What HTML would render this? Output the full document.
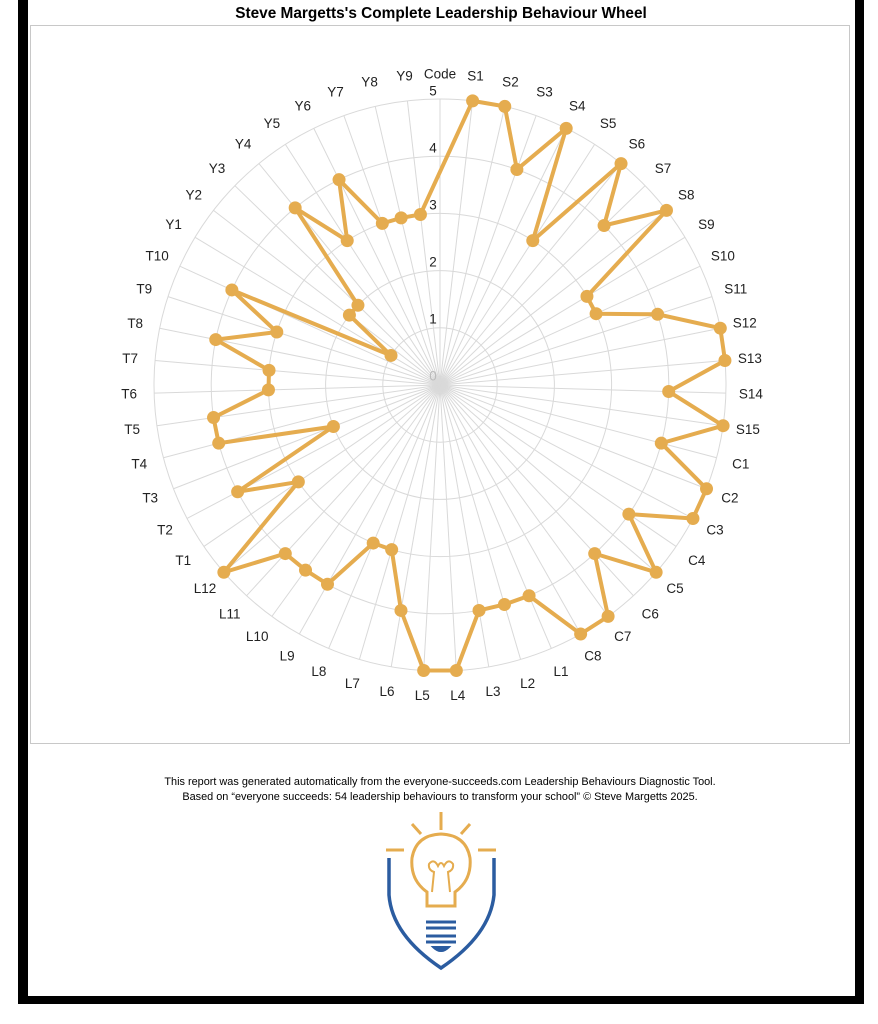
<!DOCTYPE html>
<html><head><meta charset="utf-8"><style>
html,body{margin:0;padding:0;background:#fff;}
body{width:878px;height:1024px;position:relative;overflow:hidden;font-family:"Liberation Sans",sans-serif;}
.bar{position:absolute;background:#000;}
.title{position:absolute;top:5px;left:0;width:882px;text-align:center;font-weight:bold;font-size:15.4px;color:#000;}
.foot{position:absolute;top:775px;left:0;width:880px;text-align:center;font-size:10.9px;line-height:15px;color:#000;}
svg{position:absolute;left:0;top:0;}
</style></head><body>
<div class="bar" style="left:18px;top:0;width:10px;height:1004px"></div>
<div class="bar" style="left:855px;top:0;width:9px;height:1004px"></div>
<div class="bar" style="left:18px;top:996px;width:846px;height:8px"></div>
<div class="title">Steve Margetts's Complete Leadership Behaviour Wheel</div>
<svg width="878" height="1024" id="s">
<rect x="30.5" y="25.5" width="819" height="718" fill="none" stroke="#c8c8c8" stroke-width="1"/>
<g id="grid"></g>
<g id="ser"></g>
<g font-family="Liberation Sans, sans-serif" font-size="13.5" fill="#222" text-anchor="middle" dominant-baseline="central" id="lab">
<text transform="rotate(0 440 385) translate(440 74) rotate(0)">Code</text>
<text transform="rotate(6.545 440 385) translate(440 74) rotate(-6.545)">S1</text>
<text transform="rotate(13.09 440 385) translate(440 74) rotate(-13.09)">S2</text>
<text transform="rotate(19.636 440 385) translate(440 74) rotate(-19.636)">S3</text>
<text transform="rotate(26.18 440 385) translate(440 74) rotate(-26.18)">S4</text>
<text transform="rotate(32.727 440 385) translate(440 74) rotate(-32.727)">S5</text>
<text transform="rotate(39.27 440 385) translate(440 74) rotate(-39.27)">S6</text>
<text transform="rotate(45.818 440 385) translate(440 74) rotate(-45.818)">S7</text>
<text transform="rotate(52.36 440 385) translate(440 74) rotate(-52.36)">S8</text>
<text transform="rotate(58.909 440 385) translate(440 74) rotate(-58.909)">S9</text>
<text transform="rotate(65.45 440 385) translate(440 74) rotate(-65.45)">S10</text>
<text transform="rotate(72 440 385) translate(440 74) rotate(-72)">S11</text>
<text transform="rotate(78.545 440 385) translate(440 74) rotate(-78.545)">S12</text>
<text transform="rotate(85.09 440 385) translate(440 74) rotate(-85.09)">S13</text>
<text transform="rotate(91.636 440 385) translate(440 74) rotate(-91.636)">S14</text>
<text transform="rotate(98.18 440 385) translate(440 74) rotate(-98.18)">S15</text>
<text transform="rotate(104.727 440 385) translate(440 74) rotate(-104.727)">C1</text>
<text transform="rotate(111.27 440 385) translate(440 74) rotate(-111.27)">C2</text>
<text transform="rotate(117.818 440 385) translate(440 74) rotate(-117.818)">C3</text>
<text transform="rotate(124.36 440 385) translate(440 74) rotate(-124.36)">C4</text>
<text transform="rotate(130.909 440 385) translate(440 74) rotate(-130.909)">C5</text>
<text transform="rotate(137.45 440 385) translate(440 74) rotate(-137.45)">C6</text>
<text transform="rotate(144 440 385) translate(440 74) rotate(-144)">C7</text>
<text transform="rotate(150.545 440 385) translate(440 74) rotate(-150.545)">C8</text>
<text transform="rotate(157.09 440 385) translate(440 74) rotate(-157.09)">L1</text>
<text transform="rotate(163.636 440 385) translate(440 74) rotate(-163.636)">L2</text>
<text transform="rotate(170.18 440 385) translate(440 74) rotate(-170.18)">L3</text>
<text transform="rotate(176.727 440 385) translate(440 74) rotate(-176.727)">L4</text>
<text transform="rotate(183.27 440 385) translate(440 74) rotate(-183.27)">L5</text>
<text transform="rotate(189.818 440 385) translate(440 74) rotate(-189.818)">L6</text>
<text transform="rotate(196.36 440 385) translate(440 74) rotate(-196.36)">L7</text>
<text transform="rotate(202.909 440 385) translate(440 74) rotate(-202.909)">L8</text>
<text transform="rotate(209.45 440 385) translate(440 74) rotate(-209.45)">L9</text>
<text transform="rotate(216 440 385) translate(440 74) rotate(-216)">L10</text>
<text transform="rotate(222.545 440 385) translate(440 74) rotate(-222.545)">L11</text>
<text transform="rotate(229.09 440 385) translate(440 74) rotate(-229.09)">L12</text>
<text transform="rotate(235.636 440 385) translate(440 74) rotate(-235.636)">T1</text>
<text transform="rotate(242.18 440 385) translate(440 74) rotate(-242.18)">T2</text>
<text transform="rotate(248.727 440 385) translate(440 74) rotate(-248.727)">T3</text>
<text transform="rotate(255.27 440 385) translate(440 74) rotate(-255.27)">T4</text>
<text transform="rotate(261.818 440 385) translate(440 74) rotate(-261.818)">T5</text>
<text transform="rotate(268.36 440 385) translate(440 74) rotate(-268.36)">T6</text>
<text transform="rotate(274.909 440 385) translate(440 74) rotate(-274.909)">T7</text>
<text transform="rotate(281.45 440 385) translate(440 74) rotate(-281.45)">T8</text>
<text transform="rotate(288 440 385) translate(440 74) rotate(-288)">T9</text>
<text transform="rotate(294.545 440 385) translate(440 74) rotate(-294.545)">T10</text>
<text transform="rotate(301.09 440 385) translate(440 74) rotate(-301.09)">Y1</text>
<text transform="rotate(307.636 440 385) translate(440 74) rotate(-307.636)">Y2</text>
<text transform="rotate(314.18 440 385) translate(440 74) rotate(-314.18)">Y3</text>
<text transform="rotate(320.727 440 385) translate(440 74) rotate(-320.727)">Y4</text>
<text transform="rotate(327.27 440 385) translate(440 74) rotate(-327.27)">Y5</text>
<text transform="rotate(333.818 440 385) translate(440 74) rotate(-333.818)">Y6</text>
<text transform="rotate(340.36 440 385) translate(440 74) rotate(-340.36)">Y7</text>
<text transform="rotate(346.909 440 385) translate(440 74) rotate(-346.909)">Y8</text>
<text transform="rotate(353.45 440 385) translate(440 74) rotate(-353.45)">Y9</text>
</g>
<g font-family="Liberation Sans, sans-serif" font-size="13.5" fill="#222" text-anchor="middle" dominant-baseline="central">
<text x="433" y="376" fill="#bbb">0</text>
<text x="433" y="319">1</text>
<text x="433" y="262">2</text>
<text x="433" y="205">3</text>
<text x="433" y="148">4</text>
<text x="433" y="91">5</text>
</g>
<g fill="none" stroke-linecap="butt">
<path d="M389 858 L389 895 Q392 935 441 968 Q490 935 494 895 L494 858" stroke="#2b5ca0" stroke-width="3.5"/>
<path d="M441 812 V830 M412 824 L421 834 M470 824 L461 834 M386 850 H404 M478 850 H496" stroke="#e5ac4f" stroke-width="3"/>
<path d="M427 906 L427 892 Q410 880 412 858 Q416 835 441 834 Q466 835 470 858 Q472 880 455 892 L455 906 Z" stroke="#e5ac4f" stroke-width="3"/>
<path d="M432 892 L434 872 Q428 870 429 864 Q434 858 438 866 Q441 860 444 866 Q448 858 453 864 Q454 870 448 872 L450 892" stroke="#e5ac4f" stroke-width="2"/>
<path d="M426 922 H456 M426 928 H456 M426 936 H456 M426 942 H456" stroke="#2b5ca0" stroke-width="3"/>
<path d="M433 947 Q441 955 449 947 Z" fill="#2b5ca0" stroke="#2b5ca0" stroke-width="2"/>
</g>
</svg>
<div class="foot">This report was generated automatically from the everyone-succeeds.com Leadership Behaviours Diagnostic Tool.<br>Based on “everyone succeeds: 54 leadership behaviours to transform your school” © Steve Margetts 2025.</div>
<script>
var cx=440,cy=385,u=57.2,N=55,ns="http://www.w3.org/2000/svg";
var g=document.getElementById('grid'),s=document.getElementById('ser');
function el(t,a,p){var e=document.createElementNS(ns,t);for(var k in a)e.setAttribute(k,a[k]);p.appendChild(e);return e;}
for(var k=1;k<=5;k++)el('circle',{cx:cx,cy:cy,r:k*u,fill:'none',stroke:'#d9d9d9','stroke-width':1},g);
for(var i=0;i<N;i++){var a=i*2*Math.PI/N;el('line',{x1:cx,y1:cy,x2:cx+5*u*Math.sin(a),y2:cy-5*u*Math.cos(a),stroke:'#d9d9d9','stroke-width':1},g);}
var v=[null,5,5,4,5,3,5,4,5,3,3,4,5,5,4,5, 4,5,5,4,5,4,5,5, 4,4,4,5,5,4,3,3,4,4,4,5, 3,4,2,4,4,3,3,4,3,4, 1,2,2,4,3,4,3,3,3];
var pts=[];for(var i=1;i<N;i++){var a=i*2*Math.PI/N;pts.push([cx+v[i]*u*Math.sin(a),cy-v[i]*u*Math.cos(a)]);}
el('polygon',{points:pts.map(function(p){return p[0].toFixed(1)+','+p[1].toFixed(1)}).join(' '),fill:'none',stroke:'#e5ac4f','stroke-width':4,'stroke-linejoin':'miter','stroke-miterlimit':4},s);
pts.forEach(function(p){el('circle',{cx:p[0],cy:p[1],r:6.5,fill:'#e5ac4f'},s);});
</script>
</body></html>
